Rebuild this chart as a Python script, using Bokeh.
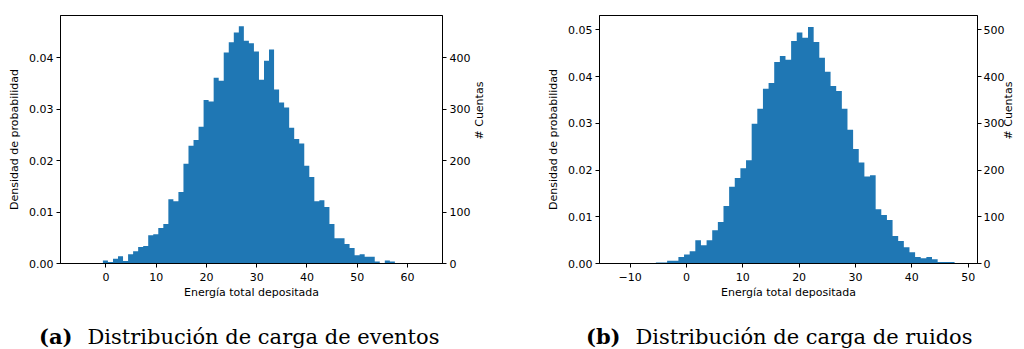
import math
import numpy as np
from bokeh.plotting import figure
from bokeh.models import Range1d, LinearAxis, FixedTicker, PrintfTickFormatter
from bokeh.layouts import column, row
from bokeh.embed import file_html
from bokeh.resources import INLINE
from bokeh.core.properties import value

# ---------------- data ----------------
# (a) events: histogram counts per bin (bins of equal width)
events_bin_start = -5.62
events_bin_width = 1.0018
events_counts = [1, 0, 1, 0, 1, 6, 3, 9, 14, 5, 18, 24, 32, 34, 55, 57, 69, 77, 125, 121,
                 139, 194, 229, 240, 266, 318, 315, 361, 355, 410, 430, 449, 461, 433, 428, 412, 357, 394, 416, 338,
                 313, 303, 264, 242, 233, 190, 168, 121, 123, 110, 77, 49, 49, 38, 30, 16, 18, 13, 13, 4,
                 0, 6, 4, 1, 1, 1, 1, 1, 1]

# (b) noise: histogram counts per bin
noise_bin_start = -12.42
noise_bin_width = 1.0
noise_counts = [1, 1, 1, 1, 1, 1, 1, 2, 2, 6, 6, 14, 19, 26, 50, 39, 50, 71, 89, 123,
                164, 183, 204, 221, 299, 331, 374, 386, 431, 444, 436, 476, 494, 483, 506, 474, 440, 410, 380, 369,
                331, 286, 245, 216, 186, 189, 116, 104, 93, 59, 48, 35, 24, 14, 11, 14, 9, 3, 3, 3,
                1]

counts_per_density = 10000  # N * bin width (twin axes relation)

events_x_ticks = [0, 10, 20, 30, 40, 50, 60]
noise_x_ticks = [-10, 0, 10, 20, 30, 40, 50]
events_density_ticks = [0.0, 0.01, 0.02, 0.03, 0.04]
noise_density_ticks = [0.0, 0.01, 0.02, 0.03, 0.04, 0.05]
events_count_ticks = [0, 100, 200, 300, 400]
noise_count_ticks = [0, 100, 200, 300, 400, 500]

x_label = "Energía total depositada"
y_label = "Densidad de probabilidad"
y2_label = "# Cuentas"
caption_tags = ["(a)", "(b)"]
caption_texts = ["Distribución de carga de eventos", "Distribución de carga de ruidos"]

BLUE = "#1f77b4"
FONT = "DejaVu Sans"
FS = "11px"


def style_axis(ax):
    ax.axis_line_color = "black"
    ax.axis_line_width = 1
    ax.major_tick_line_color = "black"
    ax.major_tick_line_width = 1
    ax.major_tick_in = 0
    ax.major_tick_out = 4
    ax.minor_tick_line_color = None
    ax.major_label_text_font = FONT
    ax.major_label_text_font_size = FS
    ax.major_label_text_color = "black"
    ax.axis_label_text_font = FONT
    ax.axis_label_text_font_size = FS
    ax.axis_label_text_font_style = "normal"
    ax.axis_label_text_color = "black"


def make_hist(counts, bin_start, bin_width, xr, dens_max, x_ticks, d_ticks, c_ticks,
              border_left, border_right, right_standoff, right_label_standoff):
    n = len(counts)
    edges = bin_start + bin_width * np.arange(n + 1)
    # outline of the adjoining histogram bars (one filled shape, no seams)
    xs = np.repeat(edges, 2)
    ys = np.concatenate([[0], np.repeat(counts, 2), [0]])
    p = figure(width=512, height=305, x_range=Range1d(*xr), y_range=Range1d(0, dens_max),
               toolbar_location=None, output_backend="svg",
               min_border_left=border_left, min_border_right=border_right,
               min_border_top=15, min_border_bottom=42)
    p.extra_y_ranges = {"counts": Range1d(0, dens_max * counts_per_density)}
    p.patch(xs, ys, y_range_name="counts", fill_color=BLUE, line_color=None)
    p.grid.visible = False
    p.outline_line_color = "black"
    p.outline_line_width = 1
    p.background_fill_color = "white"
    p.border_fill_color = "white"

    xa = p.xaxis[0]
    xa.ticker = FixedTicker(ticks=x_ticks)
    xa.major_label_overrides = {t: ("\u2212" + str(abs(t)) if t < 0 else str(t)) for t in x_ticks}
    xa.axis_label = x_label
    xa.axis_label_standoff = 2
    xa.major_label_standoff = 5
    style_axis(xa)

    ya = p.yaxis[0]
    ya.ticker = FixedTicker(ticks=d_ticks)
    ya.formatter = PrintfTickFormatter(format="%.2f")
    ya.axis_label = y_label
    ya.axis_label_standoff = 5
    ya.major_label_standoff = 3
    style_axis(ya)

    ra = LinearAxis(y_range_name="counts", ticker=FixedTicker(ticks=c_ticks))
    ra.major_label_standoff = right_label_standoff
    ra.axis_label = y2_label
    ra.axis_label_standoff = right_standoff
    if hasattr(ra, "axis_label_orientation"):
        ra.axis_label_orientation = math.pi / 2
    style_axis(ra)
    p.add_layout(ra, "right")
    return p


pa = make_hist(events_counts, events_bin_start, events_bin_width, (-9.05, 66.97), 0.0482,
               events_x_ticks, events_density_ticks, events_count_ticks, 60, 70, 6, 3)
pb = make_hist(noise_counts, noise_bin_start, noise_bin_width, (-15.42, 51.65), 0.05306,
               noise_x_ticks, noise_density_ticks, noise_count_ticks, 87, 42, 1, 2)

pc = figure(width=1024, height=44, x_range=Range1d(0, 1024), y_range=Range1d(0, 44),
            toolbar_location=None, output_backend="svg", min_border=0)
pc.axis.visible = False
pc.grid.visible = False
pc.outline_line_color = None
pc.text(x=[72, 620], y=[13, 13], text=caption_tags, text_align="right", text_baseline="alphabetic",
        text_font=value("DejaVu Serif"), text_font_style="bold", text_font_size="21px", text_color="black")
pc.text(x=[87, 635], y=[13, 13], text=caption_texts, text_align="left", text_baseline="alphabetic",
        text_font=value("DejaVu Serif"), text_font_size="21px", text_color="black")

layout = column(row(pa, pb), pc)
open("out.html", "w").write(file_html(layout, INLINE))
